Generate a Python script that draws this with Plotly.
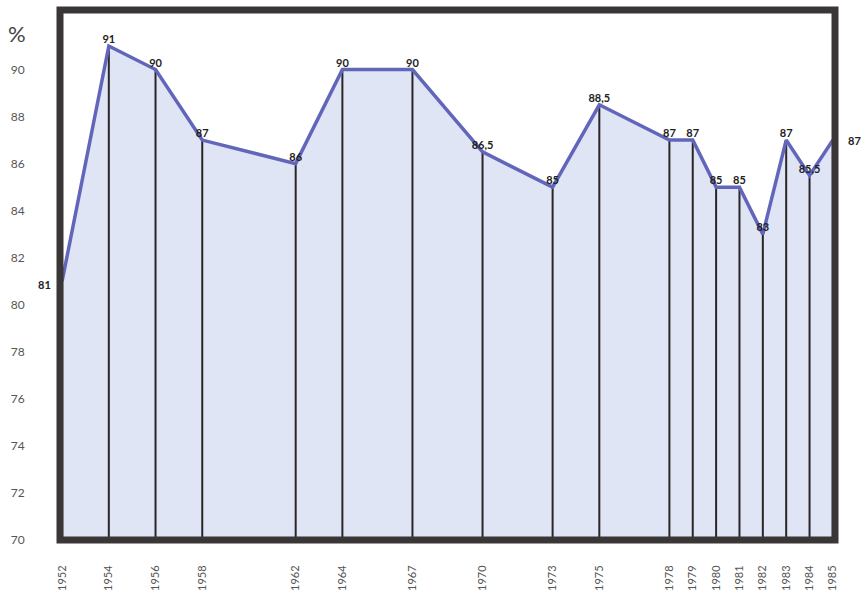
import plotly.graph_objects as go

years = [1952, 1954, 1956, 1958, 1962, 1964, 1967, 1970, 1973, 1975,
         1978, 1979, 1980, 1981, 1982, 1983, 1984, 1985]
values = [81, 91, 90, 87, 86, 90, 90, 86.5, 85, 88.5,
          87, 87, 85, 85, 83, 87, 85.5, 87]
labels = ["81", "91", "90", "87", "86", "90", "90", "86,5", "85", "88,5",
          "87", "87", "85", "85", "83", "87", "85,5", "87"]
y_ticks = [70, 72, 74, 76, 78, 80, 82, 84, 86, 88, 90]
x_ticktext = [str(y) for y in years]

label_font = dict(family="Lato", size=11, color="#222222", weight="bold")

inner_text = [""] + labels[1:-1] + [""]

fig = go.Figure()

# filled area
fig.add_trace(go.Scatter(
    x=years, y=values, mode="lines", fill="tozeroy",
    fillcolor="#dfe5f5", line=dict(width=0), hoverinfo="skip"))

# vertical drop lines
vx, vy = [], []
for xv, yv in zip(years, values):
    vx += [xv, xv, None]
    vy += [70, yv, None]
fig.add_trace(go.Scatter(x=vx, y=vy, mode="lines",
                         line=dict(color="#2a2626", width=2), hoverinfo="skip"))

# main line with labels
fig.add_trace(go.Scatter(
    x=years, y=values, mode="lines+text", text=inner_text,
    textposition="top center", cliponaxis=False,
    textfont=label_font,
    line=dict(color="#6266bb", width=3.5)))

annotations = [
    dict(text="%", xref="paper", yref="paper", x=-0.055, y=0.955,
         xanchor="center", yanchor="middle", showarrow=False,
         font=dict(size=22, color="#444444", family="Lato")),
    dict(text=labels[0], x=years[0], y=values[0], xref="x", yref="y",
         xanchor="center", yanchor="middle", xshift=-18, yshift=-3,
         showarrow=False, font=label_font),
    dict(text=labels[-1], x=years[-1], y=values[-1], xref="x", yref="y",
         xanchor="center", yanchor="middle", xshift=22, yshift=0,
         showarrow=False, font=label_font),
]

fig.update_layout(
    width=863, height=601,
    margin=dict(l=60, r=28, t=10, b=56),
    paper_bgcolor="white", plot_bgcolor="white",
    showlegend=False,
    font=dict(family="Lato", color="#555555"),
    xaxis=dict(range=[1951.91, 1985.09], tickvals=years, ticktext=x_ticktext,
               tickangle=-90, showgrid=False, zeroline=False,
               ticks="outside", ticklen=20, tickcolor="rgba(0,0,0,0)",
               tickfont=dict(size=11, color="#555555")),
    yaxis=dict(range=[70, 92.53], tickvals=y_ticks, showgrid=False,
               zeroline=False, ticks="outside", ticklen=32,
               tickcolor="rgba(0,0,0,0)",
               tickfont=dict(size=12, color="#555555")),
    shapes=[dict(type="rect", xref="paper", yref="paper", x0=0, x1=1, y0=0, y1=1,
                 line=dict(color="#3b3636", width=7), layer="above")],
    annotations=annotations,
)

fig.write_html("out.html")
